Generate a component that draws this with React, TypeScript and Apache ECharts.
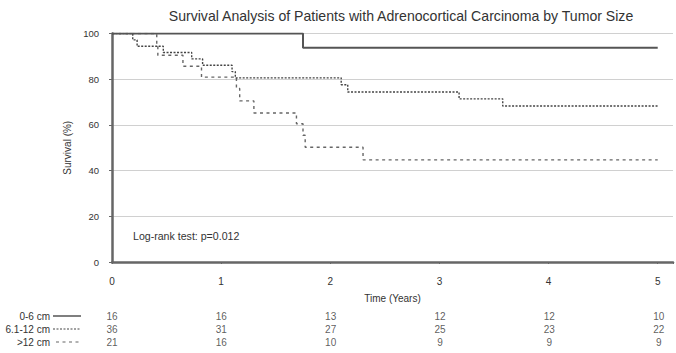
import React, { useEffect, useRef } from "react";
import * as echarts from "echarts";

const TITLE = "Survival Analysis of Patients with Adrenocortical Carcinoma by Tumor Size";
const yTicks = [0, 20, 40, 60, 80, 100];
const xTicks = [0, 1, 2, 3, 4, 5];

// Kaplan-Meier steps: [time (years), survival %]
const group0to6: number[][] = [[0, 100], [1.75, 93.75], [5, 93.75]];
const group6to12: number[][] = [
  [0, 100], [0.19, 97.2], [0.23, 94.4], [0.47, 91.7], [0.73, 88.9], [0.83, 86.1],
  [1.1, 83.3], [1.13, 80.6], [2.1, 77.6], [2.16, 74.4], [3.18, 71.4], [3.58, 68.3], [5, 68.3],
];
const groupOver12: number[][] = [
  [0, 100], [0.41, 95.2], [0.42, 90.5], [0.65, 85.7], [0.82, 80.9], [1.14, 75.9], [1.17, 70.5],
  [1.3, 65.2], [1.69, 60.5], [1.75, 55.5], [1.77, 50.2], [2.3, 44.7], [5, 44.7],
];

const groupNames = ["0-6 cm", "6.1-12 cm", ">12 cm"];
const riskTimes = [0, 1, 2, 3, 4, 5];
const risk0to6 = [16, 16, 13, 12, 12, 10];
const risk6to12 = [36, 31, 27, 25, 23, 22];
const riskOver12 = [21, 16, 10, 9, 9, 9];
const riskRows = [risk0to6, risk6to12, riskOver12];

const FONT = "Liberation Sans, Arial, sans-serif";
const TXT = "#333";

export default function App() {
  const ref = useRef<HTMLDivElement>(null);
  useEffect(() => {
    document.body.style.margin = "0";
    if (!ref.current) return;
    const chart = echarts.init(ref.current, null, { renderer: "svg" });
    const riskData: any[] = [];
    riskRows.forEach((row, r) =>
      row.forEach((v, i) => riskData.push([riskTimes[i], r, v]))
    );
    const lineStyles = [
      { color: "#555", width: 2, type: "solid" as any },
      { color: "#444", width: 1.4, type: [2, 1.5] as any },
      { color: "#666", width: 1.4, type: [3, 3.5] as any },
    ];
    const rowY = [316, 329, 342];
    chart.setOption({
      animation: false,
      backgroundColor: "#fff",
      textStyle: { fontFamily: FONT, color: TXT },
      title: {
        text: TITLE,
        left: 396,
        textAlign: "center",
        top: 4,
        textStyle: { fontSize: 14.1, fontWeight: "normal", color: TXT, fontFamily: FONT },
      },
      grid: [
        { left: 112, right: 2, top: 33.5, bottom: 91, containLabel: false },
        { left: 112, right: 2, top: 309.5, height: 39, containLabel: false },
      ],
      xAxis: [
        {
          type: "value", gridIndex: 0, min: 0, max: 5.14, interval: 1,
          name: "Time (Years)", nameLocation: "middle", nameGap: 31,
          nameTextStyle: { fontSize: 10, color: TXT, fontFamily: FONT },
          axisLine: { show: true, lineStyle: { color: "#666", width: 2.5 } },
          axisTick: { show: true, length: 2, lineStyle: { color: "#666" } },
          axisLabel: {
            fontSize: 10, color: TXT, margin: 14, fontFamily: FONT,
            formatter: (v: number) => (xTicks.includes(v) ? String(v) : ""),
          },
          splitLine: { show: false },
        },
        {
          type: "value", gridIndex: 1, min: 0, max: 5.14, show: false,
        },
      ],
      yAxis: [
        {
          type: "value", gridIndex: 0, min: 0, max: 100, interval: 20,
          name: "Survival (%)", nameLocation: "middle", nameGap: 30, nameRotate: 90,
          nameTextStyle: { fontSize: 10, color: TXT, fontFamily: FONT },
          axisLine: { show: true, lineStyle: { color: "#666", width: 2.5 } },
          axisTick: { show: true, length: 3, lineStyle: { color: "#666" } },
          axisLabel: {
            fontSize: 9.5, color: TXT, margin: 13, fontFamily: FONT,
            formatter: (v: number) => (yTicks.includes(v) ? String(v) : ""),
          },
          splitLine: { show: true, lineStyle: { color: "#d0d0d0", width: 1.2 } },
        },
        {
          type: "category", gridIndex: 1, data: groupNames, inverse: true,
          axisLine: { show: false }, axisTick: { show: false },
          axisLabel: { fontSize: 10, color: TXT, margin: 62, fontFamily: FONT, interval: 0 },
        },
      ],
      series: [
        { type: "line", name: groupNames[0], data: group0to6, step: "end", symbol: "none", lineStyle: lineStyles[0], xAxisIndex: 0, yAxisIndex: 0, z: 5 },
        { type: "line", name: groupNames[1], data: group6to12, step: "end", symbol: "none", lineStyle: lineStyles[1], xAxisIndex: 0, yAxisIndex: 0, z: 4 },
        { type: "line", name: groupNames[2], data: groupOver12, step: "end", symbol: "none", lineStyle: lineStyles[2], xAxisIndex: 0, yAxisIndex: 0, z: 3 },
        {
          type: "scatter", xAxisIndex: 1, yAxisIndex: 1, data: riskData, symbolSize: 1,
          itemStyle: { color: "rgba(0,0,0,0)" },
          label: {
            show: true, position: "inside", fontSize: 10, color: TXT, fontFamily: FONT,
            formatter: (p: any) => String(p.value[2]),
          },
        },
      ],
      graphic: [
        {
          type: "text", left: 133, top: 230,
          style: { text: "Log-rank test: p=0.012", fontSize: 10.6, fill: TXT, fontFamily: FONT },
        },
        ...lineStyles.map((ls, i) => ({
          type: "line",
          shape: { x1: i === 2 ? 56 : 53, y1: rowY[i], x2: 81, y2: rowY[i] },
          style: {
            stroke: ls.color, lineWidth: i === 0 ? 1.5 : 1.2,
            lineDash: i === 0 ? null : ls.type,
          },
        })),
      ],
    });
    return () => chart.dispose();
  }, []);
  return <div ref={ref} style={{ width: 676, height: 353 }} />;
}
